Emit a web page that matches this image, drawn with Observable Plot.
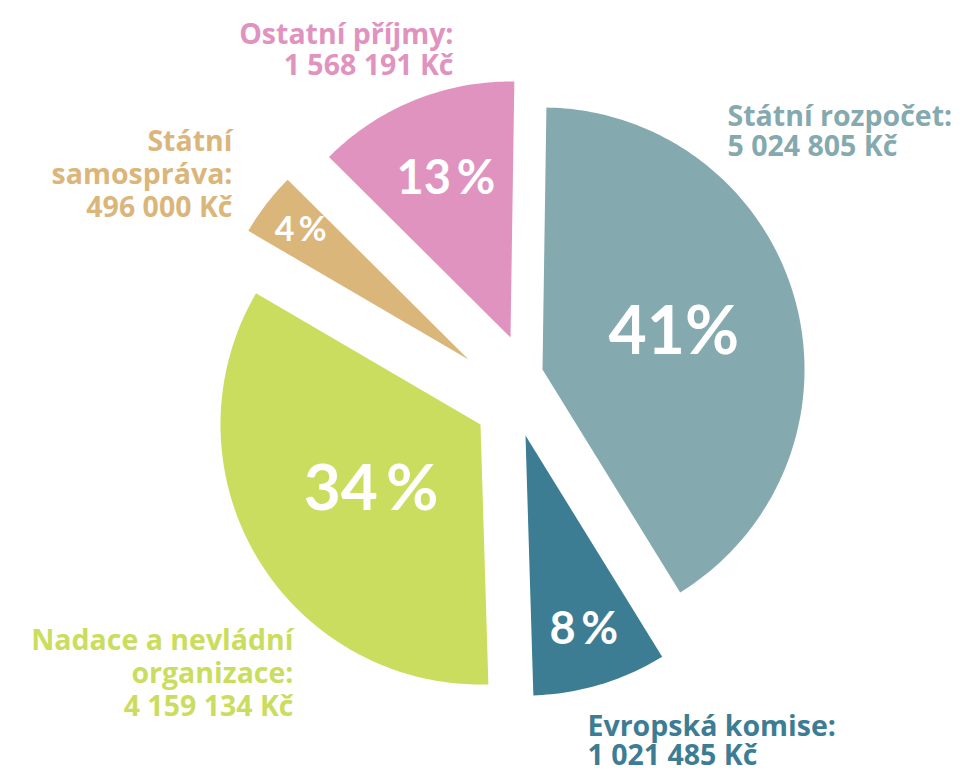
<!DOCTYPE html>
<html><head><meta charset="utf-8">
<script src="https://cdn.jsdelivr.net/npm/d3@7"></script>
<script src="https://cdn.jsdelivr.net/npm/@observablehq/plot@0.6"></script>
<style>body{margin:0;background:#fff;}</style>
</head><body><div id="chart"></div>
<script>
// ---- data ----
const categories = ["Státní rozpočet", "Evropská komise", "Nadace a nevládní organizace", "Státní samospráva", "Ostatní příjmy"];
const amounts = [5024805, 1021485, 4159134, 496000, 1568191];
const labelLines = ["Státní rozpočet:", "Evropská komise:", "Nadace a nevládní\norganizace:", "Státní\nsamospráva:", "Ostatní příjmy:"];

// ---- styles / layout ----
const colors = ["#84a9ae", "#3d7d94", "#cbdd5e", "#dbb67b", "#e193c0"];
const W = 963, H = 774;
const center = [500, 357];
const offsets = [[42, 12], [25, 78], [-20, 67], [-32, 2], [10, -20]];
const radii = [262, 260, 260, 255, 256];
const pctRadius = [0.52, 0.78, 0.49, 0.83, 0.67];
const pctSize = [66, 45, 64, 34, 47];
const FS = 28.5;
const labelPos = [
  {x: 727, y: 125, anchor: "start", lh: 30},
  {x: 587, y: 736, anchor: "start", lh: 28.5},
  {x: 293, y: 647, anchor: "end", lh: 33},
  {x: 232, y: 148, anchor: "end", lh: 33},
  {x: 453, y: 42, anchor: "end", lh: 31}
];
const font = "Lato, 'Open Sans', sans-serif";
const labelFont = "'Open Sans', Lato, sans-serif";

const total = d3.sum(amounts);
const fmt = v => String(v).replace(/\B(?=(\d{3})+(?!\d))/g, " ");
const rows = categories.map((c, i) => ({c, amount: amounts[i], i}));
const start = 0.015;
const arcs = d3.pie().sort(null).value(d => d.amount).startAngle(start).endAngle(start + 2 * Math.PI)(rows);

const marks = [];
const pct = [];
arcs.forEach(a => {
  const i = a.data.i;
  const ox = center[0] + offsets[i][0], oy = center[1] + offsets[i][1];
  const r = radii[i];
  const pts = [{x: ox, y: oy}];
  const n = Math.max(2, Math.ceil((a.endAngle - a.startAngle) / (Math.PI / 180)));
  for (let k = 0; k <= n; k++) {
    const t = a.startAngle + (a.endAngle - a.startAngle) * k / n;
    pts.push({x: ox + r * Math.sin(t), y: oy - r * Math.cos(t)});
  }
  pts.push({x: ox, y: oy});
  marks.push(Plot.line(pts, {x: "x", y: "y", fill: colors[i], stroke: "none", curve: "linear"}));
  const mid = (a.startAngle + a.endAngle) / 2;
  const p = Math.round(a.data.amount / total * 100);
  pct.push({
    x: ox + pctRadius[i] * r * Math.sin(mid),
    y: oy - pctRadius[i] * r * Math.cos(mid),
    text: p + (p === 41 ? "%" : "\u2009%"),
    size: pctSize[i]
  });
});
marks.push(Plot.text(pct, {x: "x", y: "y", text: "text", fontSize: "size", fill: "white", fontWeight: 700, fontFamily: font, textAnchor: "middle", lineAnchor: "middle"}));

rows.forEach(d => {
  const lp = labelPos[d.i];
  marks.push(Plot.text([{x: lp.x, y: lp.y - 0.72 * FS, t: labelLines[d.i] + "\n" + fmt(d.amount) + " Kč"}], {
    x: "x", y: "y", text: "t", fill: colors[d.i], fontSize: FS, fontWeight: 700, fontFamily: labelFont,
    textAnchor: lp.anchor, lineAnchor: "top", lineHeight: lp.lh / FS
  }));
});

const chart = Plot.plot({
  width: W, height: H,
  margin: 0,
  x: {domain: [0, W], range: [0, W], axis: null},
  y: {domain: [0, H], range: [0, H], axis: null},
  style: {fontFamily: font, background: "white"},
  marks
});
document.getElementById("chart").appendChild(chart);
</script>
</body></html>
